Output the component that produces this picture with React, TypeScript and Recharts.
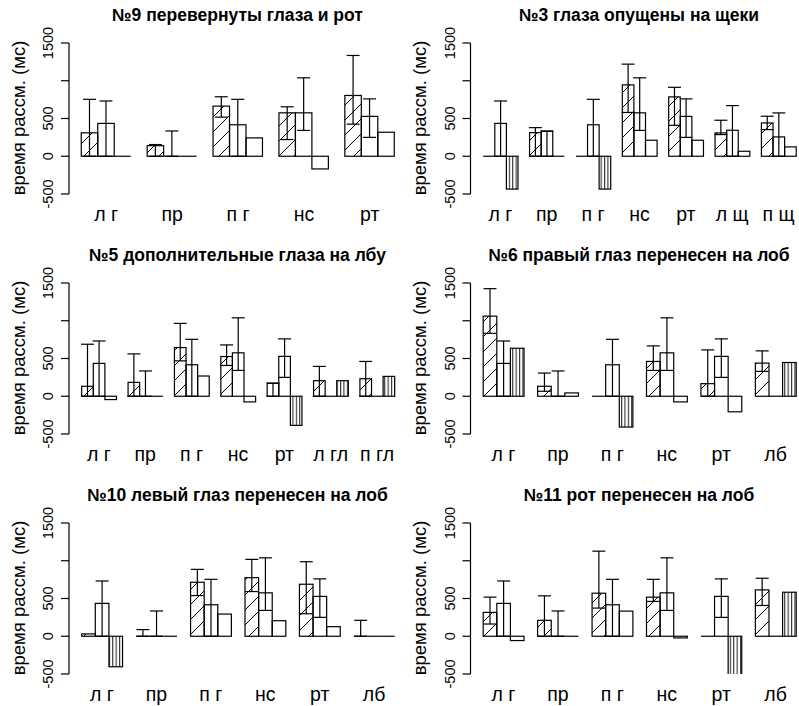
import React from "react";
import { BarChart, Bar, XAxis, YAxis, ErrorBar } from "recharts";

type Pat = "hatch" | "vert" | "none";
const H: Pat = "hatch";
const V: Pat = "vert";
const N: Pat = "none";

// №9 перевернуты глаза и рот
const cats9 = ["л г", "пр", "п г", "нс", "рт"];
const a9 = [310, 140, 664, 575, 805];
const a9Hi = [754, 155, 788, 655, 1335];
const a9Lo = [0, 0, 518, 221, 425];
const a9Pat = [H, H, H, H, H];
const b9 = [435, 0, 417, 575, 528];
const b9Hi = [732, 335, 754, 1039, 760];
const b9Lo = [0, 0, 0, 342, 250];
const c9 = [0, 0, 243, -168, 318];
const c9Pat = [N, N, N, N, N];

// №3 глаза опущены на щеки
const cats3 = ["л г", "пр", "п г", "нс", "рт", "л щ", "п щ"];
const a3 = [0, 313, 0, 945, 786, 309, 441];
const a3Hi = [null, 379, null, 1220, 913, 477, 530];
const a3Lo = [null, 0, null, 580, 410, 287, 353];
const a3Pat = [H, H, H, H, H, H, H];
const b3 = [435, 330, 417, 575, 528, 344, 256];
const b3Hi = [732, 335, 754, 1039, 760, 671, 574];
const b3Lo = [0, 0, 0, 342, 250, 0, 0];
const c3 = [-435, 0, -435, 212, 212, 66, 124];
const c3Pat = [V, N, V, N, N, N, N];

// №5 дополнительные глаза на лбу
const cats5 = ["л г", "пр", "п г", "нс", "рт", "л гл", "п гл"];
const a5 = [132, 184, 645, 526, 170, 206, 232];
const a5Hi = [689, 561, 965, 680, 175, 395, 461];
const a5Lo = [0, 0, 469, 408, 0, 0, 0];
const a5Pat = [H, H, H, H, N, H, H];
const b5 = [435, 0, 417, 575, 528, 0, 0];
const b5Hi = [732, 335, 754, 1039, 760, null, null];
const b5Lo = [0, 0, 0, 342, 250, null, null];
const c5 = [-44, 0, 268, -75, -386, 206, 263];
const c5Pat = [N, N, N, N, V, V, V];

// №6 правый глаз перенесен на лоб
const cats6 = ["л г", "пр", "п г", "нс", "рт", "лб"];
const a6 = [1061, 132, 0, 461, 167, 439];
const a6Hi = [1425, 307, null, 667, 614, 601];
const a6Lo = [833, 66, null, 342, 0, 329];
const a6Pat = [H, H, H, H, H, H];
const b6 = [435, 0, 417, 575, 528, 0];
const b6Hi = [732, 335, 754, 1039, 760, null];
const b6Lo = [0, 0, 0, 342, 250, null];
const c6 = [636, 44, -408, -75, -206, 447];
const c6Pat = [V, N, V, N, N, V];

// №10 левый глаз перенесен на лоб
const cats10 = ["л г", "пр", "п г", "нс", "рт", "лб"];
const a10 = [31, 0, 715, 776, 689, 0];
const a10Hi = [null, 88, 886, 1018, 987, 211];
const a10Lo = [null, 0, 539, 592, 298, 0];
const a10Pat = [H, H, H, H, H, H];
const b10 = [435, 0, 417, 575, 528, 0];
const b10Hi = [732, 335, 754, 1039, 760, null];
const b10Lo = [0, 0, 0, 342, 250, null];
const c10 = [-404, 0, 294, 206, 127, 0];
const c10Pat = [V, N, N, N, N, N];

// №11 рот перенесен на лоб
const cats11 = ["л г", "пр", "п г", "нс", "рт", "лб"];
const a11 = [316, 211, 570, 518, 0, 614];
const a11Hi = [518, 535, 1127, 754, null, 768];
const a11Lo = [162, 0, 373, 461, null, 408];
const a11Pat = [H, H, H, H, N, H];
const b11 = [435, 0, 417, 575, 528, 0];
const b11Hi = [732, 335, 754, 1039, 760, null];
const b11Lo = [0, 0, 0, 342, 250, null];
const c11 = [-57, 0, 333, -22, -526, 583];
const c11Pat = [N, N, N, N, V, V];

const Y_TICKS = [-500, 0, 500, 1000, 1500];
// R drops the 1000 label because it would overlap its neighbours
const Y_LABELED = [-500, 0, 500, 1500];
const FONT = '"Liberation Sans", Arial, Helvetica, sans-serif';

const panels = [
  { title: "№9 перевернуты глаза и рот", cats: cats9, a: a9, aHi: a9Hi, aLo: a9Lo, aPat: a9Pat, b: b9, bHi: b9Hi, bLo: b9Lo, c: c9, cPat: c9Pat, left: 0, top: 0, axisX: 69 },
  { title: "№3 глаза опущены на щеки", cats: cats3, a: a3, aHi: a3Hi, aLo: a3Lo, aPat: a3Pat, b: b3, bHi: b3Hi, bLo: b3Lo, c: c3, cPat: c3Pat, left: 400, top: 0, axisX: 70.5 },
  { title: "№5 дополнительные глаза на лбу", cats: cats5, a: a5, aHi: a5Hi, aLo: a5Lo, aPat: a5Pat, b: b5, bHi: b5Hi, bLo: b5Lo, c: c5, cPat: c5Pat, left: 0, top: 240, axisX: 69 },
  { title: "№6 правый глаз перенесен на лоб", cats: cats6, a: a6, aHi: a6Hi, aLo: a6Lo, aPat: a6Pat, b: b6, bHi: b6Hi, bLo: b6Lo, c: c6, cPat: c6Pat, left: 400, top: 240, axisX: 70.5 },
  { title: "№10 левый глаз перенесен на лоб", cats: cats10, a: a10, aHi: a10Hi, aLo: a10Lo, aPat: a10Pat, b: b10, bHi: b10Hi, bLo: b10Lo, c: c10, cPat: c10Pat, left: 0, top: 480, axisX: 69 },
  { title: "№11 рот перенесен на лоб", cats: cats11, a: a11, aHi: a11Hi, aLo: a11Lo, aPat: a11Pat, b: b11, bHi: b11Hi, bLo: b11Lo, c: c11, cPat: c11Pat, left: 400, top: 480, axisX: 70.5 },
];

const CHART_W = 420;
const CHART_H = 226;
const TOP = 43;

function errOf(v: number, hi: number | null, lo: number | null) {
  if (hi == null) return null;
  return [v - (lo ?? v), hi - v];
}

function buildRows(p: any) {
  return p.cats.map((cat: string, i: number) => ({
    cat,
    a: p.a[i],
    b: p.b[i],
    c: p.c[i],
    aErr: errOf(p.a[i], p.aHi[i], p.aLo[i]),
    bErr: errOf(p.b[i], p.bHi[i], p.bLo[i]),
    aPat: p.aPat[i],
    bPat: "none",
    cPat: p.cPat[i],
  }));
}

const shapeFor = (key: string) => (props: any) => {
  const { x, y, width, height, payload } = props;
  const top = Math.min(y, y + height);
  const h = Math.abs(height);
  if (!(h >= 0.6)) {
    return <line x1={x} x2={x + width} y1={y} y2={y} stroke="#000" strokeWidth={1.2} />;
  }
  const pat = payload ? payload[key] : "none";
  return (
    <rect
      x={x}
      y={top}
      width={width}
      height={h}
      fill={pat === "none" ? "none" : `url(#${pat})`}
      stroke="#000"
      strokeWidth={1.2}
    />
  );
};

function Panel({ p }: { p: any }) {
  const rows = buildRows(p);
  const n = p.cats.length;
  const w = 313 / (4 * n - 1);
  const padL = 12.5 - w / 2;
  const padR = CHART_W - p.axisX - 325.5 - w / 2;
  const axisX = p.axisX;

  const YTick = (props: any) => {
    const { y, payload } = props;
    if (!Y_LABELED.includes(payload.value)) return <g />;
    const cx = axisX - 21;
    return (
      <text
        x={cx}
        y={y}
        transform={`rotate(-90 ${cx} ${y})`}
        textAnchor="middle"
        dominantBaseline="central"
        fontSize={14.5}
        fontFamily={FONT}
        fill="#000"
      >
        {payload.value}
      </text>
    );
  };

  const XTick = (props: any) => {
    const { x, y, payload } = props;
    return (
      <text x={x} y={y + 19.5} textAnchor="middle" dominantBaseline="central" fontSize={19.5} fontFamily={FONT} fill="#000">
        {payload.value}
      </text>
    );
  };

  return (
    <div style={{ position: "absolute", left: p.left, top: p.top, width: CHART_W, height: CHART_H }}>
      <div
        style={{
          position: "absolute",
          left: axisX + 168.5,
          top: 16,
          transform: "translate(-50%, -50%)",
          whiteSpace: "nowrap",
          fontFamily: FONT,
          fontWeight: "bold",
          fontSize: 17.5,
          lineHeight: 1,
        }}
      >
        {p.title}
      </div>
      <div
        style={{
          position: "absolute",
          left: axisX - 50.5,
          top: 117.5,
          transform: "translate(-50%, -50%) rotate(-90deg)",
          whiteSpace: "nowrap",
          fontFamily: FONT,
          fontSize: 18.5,
          lineHeight: 1,
        }}
      >
        время рассм. (мс)
      </div>
      <BarChart
        width={CHART_W}
        height={CHART_H}
        data={rows}
        margin={{ top: TOP, right: 0, bottom: 0, left: 0 }}
        barSize={w}
        barGap={0}
        style={{ position: "absolute", left: 0, top: 0 }}
      >
        <XAxis
          dataKey="cat"
          type="category"
          interval={0}
          padding={{ left: padL, right: padR }}
          axisLine={false}
          tickLine={false}
          tickSize={0}
          tickMargin={0}
          height={CHART_H - TOP - 151}
          tick={<XTick />}
        />
        <YAxis
          type="number"
          domain={[-500, 1500]}
          ticks={Y_TICKS}
          allowDataOverflow
          interval={0}
          width={axisX}
          tickSize={8}
          tickMargin={2}
          axisLine={{ stroke: "#000", strokeWidth: 1.2 }}
          tickLine={{ stroke: "#000", strokeWidth: 1.2 }}
          tick={<YTick />}
        />
        <Bar dataKey="a" isAnimationActive={false} shape={shapeFor("aPat")}>
          <ErrorBar dataKey="aErr" direction="y" width={6.5} stroke="#000" strokeWidth={1.2} isAnimationActive={false} />
        </Bar>
        <Bar dataKey="b" isAnimationActive={false} shape={shapeFor("bPat")}>
          <ErrorBar dataKey="bErr" direction="y" width={6.5} stroke="#000" strokeWidth={1.2} isAnimationActive={false} />
        </Bar>
        <Bar dataKey="c" isAnimationActive={false} shape={shapeFor("cPat")} />
      </BarChart>
    </div>
  );
}

export default function App() {
  return (
    <div
      style={{
        position: "absolute",
        left: 0,
        top: 0,
        width: 799,
        height: 706,
        background: "#fff",
        overflow: "hidden",
      }}
    >
      <svg width={0} height={0} style={{ position: "absolute" }}>
        <defs>
          <pattern id="hatch" patternUnits="userSpaceOnUse" width={15} height={15}>
            <path d="M0,15 L15,0 M-3,3 L3,-3 M12,18 L18,12" stroke="#000" strokeWidth={1} />
          </pattern>
          <pattern id="vert" patternUnits="userSpaceOnUse" width={3.4} height={4}>
            <line x1={0.6} y1={0} x2={0.6} y2={4} stroke="#000" strokeWidth={0.9} />
          </pattern>
        </defs>
      </svg>
      {panels.map((p, i) => (
        <Panel key={i} p={p} />
      ))}
    </div>
  );
}
